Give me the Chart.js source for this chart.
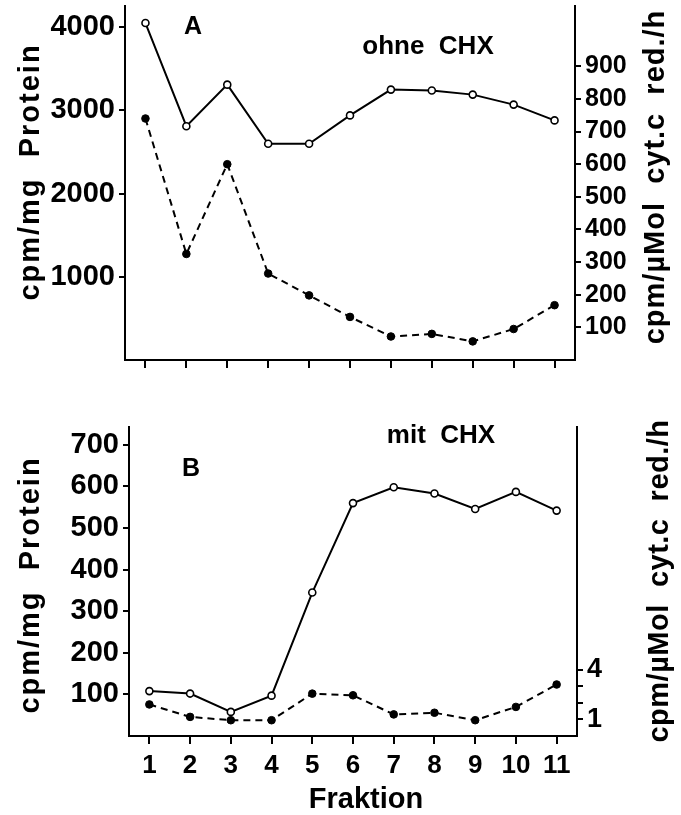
<!DOCTYPE html>
<html>
<head>
<meta charset="utf-8">
<script src="https://cdn.jsdelivr.net/npm/chart.js@4"></script>
<style>
    body { margin: 0; background: #fff; }
    .panel { position: absolute; left: 0; }
    #panel-a { top: 0; }
    #panel-b { top: 395px; }
</style>
</head>
<body>
<div class="panel" id="panel-a"><canvas id="chart-a" width="681" height="395"></canvas></div>
<div class="panel" id="panel-b"><canvas id="chart-b" width="681" height="420"></canvas></div>
<script>
const fraktionen = ['1', '2', '3', '4', '5', '6', '7', '8', '9', '10', '11'];

// A: ohne CHX
const proteinA = [4050, 2810, 3310, 2600, 2600, 2940, 3250, 3240, 3190, 3070, 2880];
const cytA = [740, 325, 600, 265, 198, 132, 72, 80, 57, 95, 168];
const ticksProteinA = [1000, 2000, 3000, 4000];
const ticksCytA = [100, 200, 300, 400, 500, 600, 700, 800, 900];

// B: mit CHX
const proteinB = [108, 102, 58, 97, 345, 560, 598, 583, 546, 587, 542];
const cytB = [1.9, 1.15, 0.95, 0.95, 2.55, 2.45, 1.3, 1.4, 0.95, 1.75, 3.1];
const ticksProteinB = [100, 200, 300, 400, 500, 600, 700];
const ticksCytB = [1, 2, 3, 4];
const tickTextCytB = ['1', '', '', '4'];

const FONT = "'Liberation Sans', Arial, sans-serif";

const textLayer = {
    id: 'textLayer',
    afterDraw(chart, args, opts) {
        const ctx = chart.ctx;
        opts.items.forEach(it => {
            ctx.save();
            ctx.font = it.font;
            ctx.fillStyle = '#000';
            ctx.textAlign = 'center';
            ctx.textBaseline = 'middle';
            if ('letterSpacing' in ctx) ctx.letterSpacing = (it.spacing || 0) + 'px';
            ctx.translate(it.x, it.y);
            ctx.rotate(it.rot || 0);
            ctx.fillText(it.text, 0, 0);
            ctx.restore();
        });
    }
};

function solidSet(data) {
    return {
        data, yAxisID: 'y',
        borderColor: '#000', borderWidth: 2,
        pointRadius: 3.5, pointBorderWidth: 1.6,
        pointBackgroundColor: '#fff', pointBorderColor: '#000'
    };
}
function dashedSet(data) {
    return {
        data, yAxisID: 'y1',
        borderColor: '#000', borderWidth: 2, borderDash: [7, 5],
        pointRadius: 3.8, pointBorderWidth: 1,
        pointBackgroundColor: '#000', pointBorderColor: '#000'
    };
}

// keep the plot box fixed: no extra room for overhanging labels
function fixBox(s, prop, size) {
    s[prop] = size;
    s.paddingTop = 0; s.paddingBottom = 0; s.paddingLeft = 0; s.paddingRight = 0;
}

function yAxis(pos, max, tickList, fontSize, width, labels) {
    return {
        position: pos, min: 0, max,
        afterBuildTicks: s => { s.ticks = tickList.map(v => ({ value: v })); },
        afterFit: s => fixBox(s, 'width', width),
        border: { color: '#000', width: 2 },
        grid: { drawOnChartArea: false, drawTicks: true, tickLength: 6, color: '#000', lineWidth: 2 },
        ticks: {
            autoSkip: false, padding: 4, color: '#000',
            font: { family: FONT, size: fontSize, weight: 'bold' },
            callback: (v, i) => labels ? labels[i] : String(v)
        }
    };
}

function xAxis(height, showLabels) {
    return {
        type: 'category', offset: true,
        afterFit: s => fixBox(s, 'height', height),
        border: { color: '#000', width: 2 },
        grid: { drawOnChartArea: false, drawTicks: true, tickLength: 8, color: '#000', lineWidth: 2 },
        ticks: {
            autoSkip: false, maxRotation: 0, padding: 6, color: '#000',
            font: { family: FONT, size: 26, weight: 'bold' },
            callback: (v, i) => showLabels ? fraktionen[i] : ''
        }
    };
}

const chartA = new Chart(document.getElementById('chart-a'), {
    type: 'line',
    data: { labels: fraktionen, datasets: [solidSet(proteinA), dashedSet(cytA)] },
    options: {
        responsive: false, animation: false,
        layout: { padding: { top: 5, left: 0, right: 0, bottom: 0 } },
        plugins: {
            legend: { display: false }, tooltip: { enabled: false },
            textLayer: {
                items: [
                    { text: 'A', x: 193, y: 27, font: `bold 25px ${FONT}` },
                    { text: 'ohne  CHX', x: 428, y: 47, font: `bold 26px ${FONT}` },
                    { text: 'cpm/mg  Protein', x: 31, y: 172, rot: -Math.PI / 2, font: `bold 29px ${FONT}`, spacing: 2 },
                    { text: 'cpm/µMol  cyt.c  red./h', x: 656, y: 177, rot: -Math.PI / 2, font: `bold 29px ${FONT}`, spacing: 1 }
                ]
            }
        },
        scales: {
            x: xAxis(35, false),
            y: yAxis('left', 4260, ticksProteinA, 29, 125),
            y1: yAxis('right', 1086, ticksCytA, 25, 106)
        }
    },
    plugins: [textLayer]
});

const chartB = new Chart(document.getElementById('chart-b'), {
    type: 'line',
    data: { labels: fraktionen, datasets: [solidSet(proteinB), dashedSet(cytB)] },
    options: {
        responsive: false, animation: false,
        layout: { padding: { top: 32, left: 0, right: 0, bottom: 0 } },
        plugins: {
            legend: { display: false }, tooltip: { enabled: false },
            textLayer: {
                items: [
                    { text: 'B', x: 191, y: 74, font: `bold 25px ${FONT}` },
                    { text: 'mit  CHX', x: 441, y: 41, font: `bold 26px ${FONT}` },
                    { text: 'Fraktion', x: 366, y: 405, font: `bold 29px ${FONT}` },
                    { text: 'cpm/mg  Protein', x: 31, y: 190, rot: -Math.PI / 2, font: `bold 29px ${FONT}`, spacing: 2 },
                    { text: 'cpm/µMol  cyt.c  red./h', x: 660, y: 186, rot: -Math.PI / 2, font: `bold 29px ${FONT}`, spacing: 0.5 }
                ]
            }
        },
        scales: {
            x: xAxis(79, true),
            y: yAxis('left', 743, ticksProteinB, 29, 129),
            y1: yAxis('right', 18.6, ticksCytB, 27, 104, tickTextCytB)
        }
    },
    plugins: [textLayer]
});
</script>
</body>
</html>
